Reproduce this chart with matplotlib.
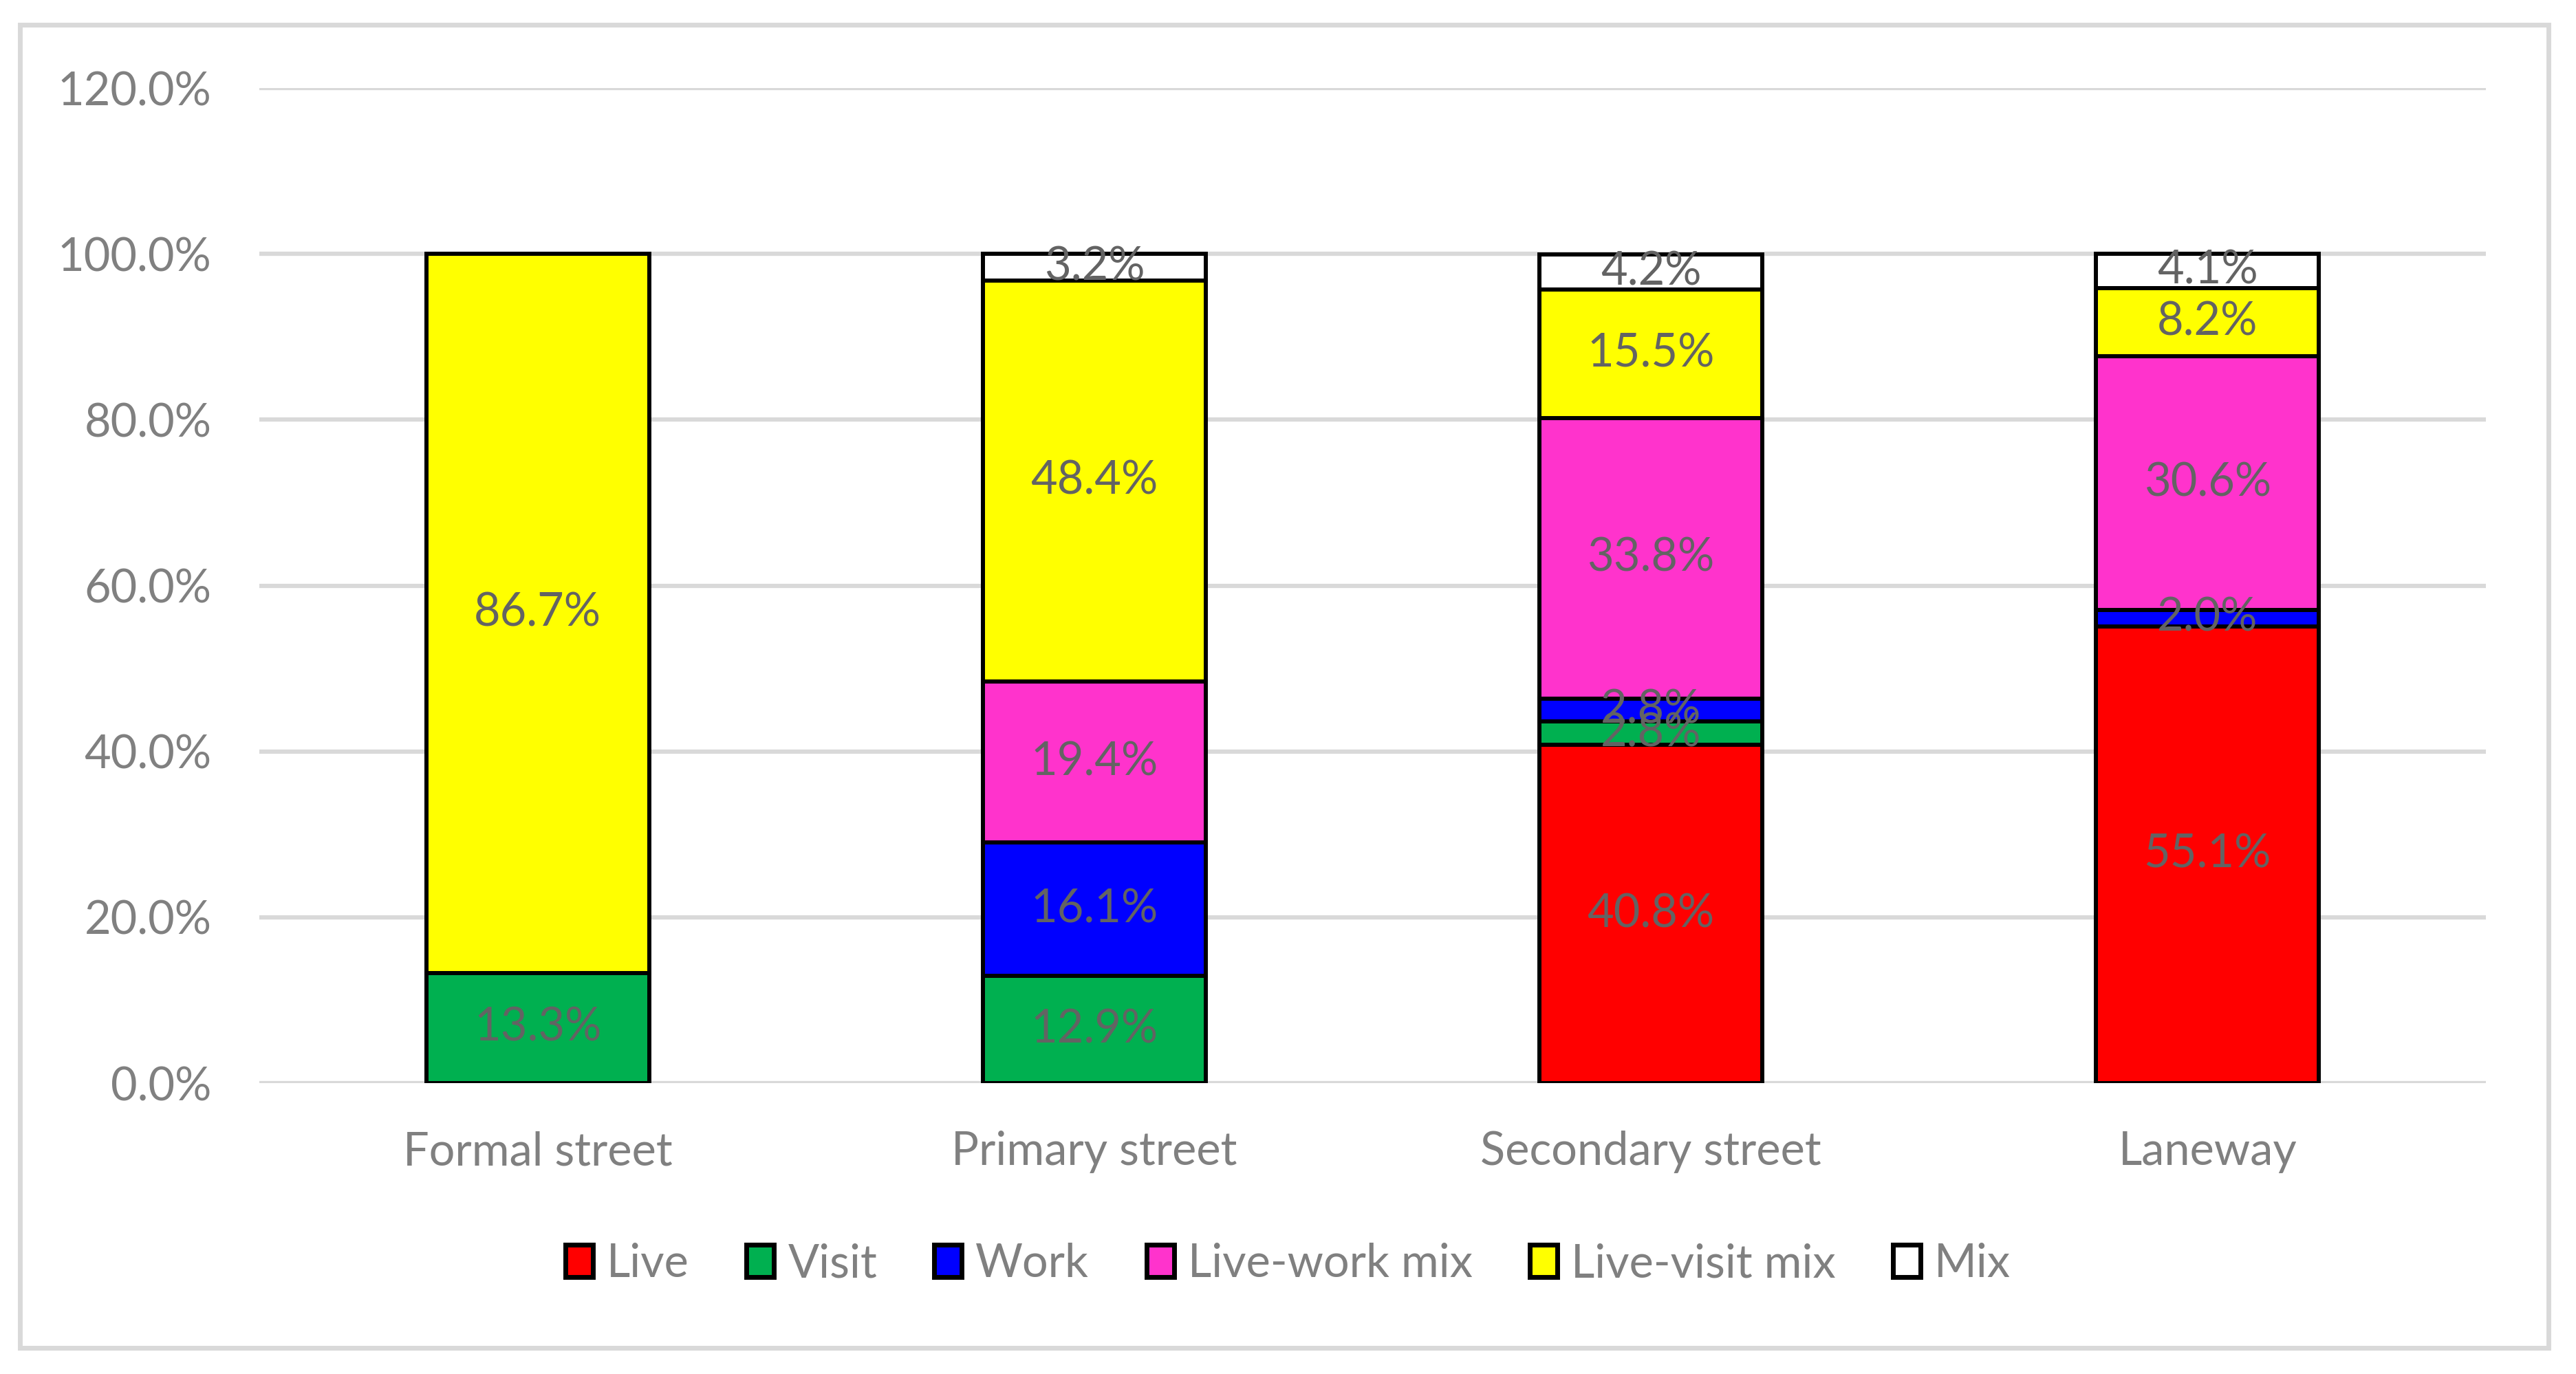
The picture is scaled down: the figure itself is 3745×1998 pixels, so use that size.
import numpy as np
import matplotlib.pyplot as plt
from matplotlib.patches import Patch, Rectangle

plt.rcParams['font.family'] = ['Lato', 'DejaVu Sans']

categories = ['Formal street', 'Primary street', 'Secondary street', 'Laneway']
series = ['Live', 'Visit', 'Work', 'Live-work mix', 'Live-visit mix', 'Mix']
live = [0.0, 0.0, 40.8, 55.1]
visit = [13.3, 12.9, 2.8, 0.0]
work = [0.0, 16.1, 2.8, 2.0]
live_work = [0.0, 19.4, 33.8, 30.6]
live_visit = [86.7, 48.4, 15.5, 8.2]
mix = [0.0, 3.2, 4.2, 4.1]
yticks = [0, 20, 40, 60, 80, 100, 120]

colors = ['#FF0000', '#00B050', '#0000FF', '#FF33CC', '#FFFF00', '#FFFFFF']
values = [live, visit, work, live_work, live_visit, mix]

fig = plt.figure(figsize=(37.45, 19.98), dpi=100)
ax = fig.add_axes([0.1007, 0.2117, 0.8643, 0.7242])

x = np.arange(len(categories))
bottom = np.zeros(len(categories))
for name, col, vals in zip(series, colors, values):
    vals = np.array(vals)
    ax.bar(x, vals, 0.4, bottom=bottom, color=col, edgecolor='black',
           linewidth=4.3, label=name, zorder=3)
    for xi, b, v in zip(x, bottom, vals):
        if v > 0:
            ax.text(xi, b + v / 2, f'{v:.1f}%', ha='center', va='center',
                    fontsize=48, color='#636363', zorder=4)
    bottom += vals

ax.set_xlim(-0.5, 3.5)
ax.set_ylim(0, 120)
ax.set_yticks(yticks)
ax.set_yticklabels([f'{t:.1f}%' for t in yticks])
ax.set_xticks(x)
ax.set_xticklabels(categories)
ax.tick_params(axis='y', length=0, pad=50, labelsize=48, labelcolor='#808080')
ax.tick_params(axis='x', length=0, pad=50, labelsize=48, labelcolor='#808080')
ax.grid(axis='y', color='#D9D9D9', linewidth=4.5, zorder=0)
for s in ax.spines.values():
    s.set_visible(False)

handles = [Patch(facecolor=c, edgecolor='black', linewidth=5) for c in colors]
leg = fig.legend(handles, series, loc='center', bbox_to_anchor=(0.5, 0.08),
                 ncol=6, frameon=False, fontsize=48, handlelength=0.6,
                 handleheight=0.7, handletextpad=0.3, columnspacing=1.25)
for t in leg.get_texts():
    t.set_color('#808080')

fig.patches.append(Rectangle((0.0077, 0.019), 0.9816, 0.963, transform=fig.transFigure,
                             fill=False, edgecolor='#D9D9D9', linewidth=5))

fig.savefig('out.png', dpi=100)
